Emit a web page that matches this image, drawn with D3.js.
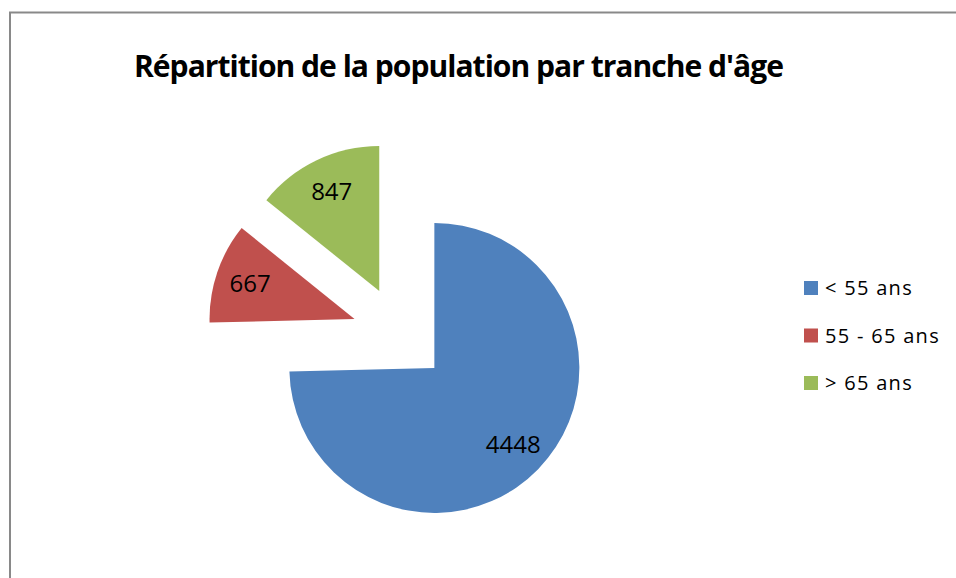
<!DOCTYPE html>
<html>
<head>
<meta charset="utf-8">
<script src="https://cdn.jsdelivr.net/npm/d3@7"></script>
<style>
  body { margin: 0; background: #fff; }
  svg { display: block; }
</style>
</head>
<body>
<div id="chart"></div>
<script>
'use strict';

// chart data
var categories = ['< 55 ans', '55 - 65 ans', '> 65 ans'];
var values = [4448, 667, 847];
var colors = ['#4F81BD', '#C0504D', '#9BBB59'];
var title = "Répartition de la population par tranche d'âge";

var width = 956, height = 578;
var cx = 400, cy = 334.4, radius = 145, explode = 48;

var svg = d3.select('#chart').append('svg')
  .attr('width', width)
  .attr('height', height);

// chart area border (goes past the right/bottom edges)
svg.append('rect')
  .attr('x', 10)
  .attr('y', 12.5)
  .attr('width', 1000)
  .attr('height', 700)
  .attr('fill', 'none')
  .attr('stroke', '#898989')
  .attr('stroke-width', 2);

svg.append('text')
  .attr('x', 134)
  .attr('y', 77)
  .attr('textLength', 649)
  .attr('lengthAdjust', 'spacingAndGlyphs')
  .style('font-family', '"Open Sans", sans-serif')
  .style('font-weight', 'bold')
  .style('font-size', '30px')
  .style('letter-spacing', '-1px')
  .attr('fill', '#000')
  .text(title);

var data = values.map(function(v, i) {
  return { name: categories[i], value: v, color: colors[i] };
});

var pie = d3.pie()
  .sort(null)
  .value(function(d) { return d.value; });

var arc = d3.arc()
  .innerRadius(0)
  .outerRadius(radius);

var labelArc = d3.arc()
  .innerRadius(radius * 0.76)
  .outerRadius(radius * 0.76);

var chart = svg.append('g')
  .attr('transform', 'translate(' + cx + ',' + cy + ')');

var slices = chart.selectAll('g.slice')
  .data(pie(data))
  .enter()
  .append('g')
  .attr('class', 'slice')
  .attr('transform', function(d) {
    var a = (d.startAngle + d.endAngle) / 2;
    return 'translate(' + (Math.sin(a) * explode) + ',' + (-Math.cos(a) * explode) + ')';
  });

slices.append('path')
  .attr('d', arc)
  .attr('fill', function(d) { return d.data.color; });

slices.append('text')
  .attr('transform', function(d) {
    var c = labelArc.centroid(d);
    return 'translate(' + c[0] + ',' + c[1] + ')';
  })
  .attr('text-anchor', 'middle')
  .attr('dy', '0.35em')
  .style('font-family', '"Open Sans", sans-serif')
  .style('font-size', '24px')
  .attr('fill', '#000')
  .text(function(d) { return d.data.value; });

// legend
var legend = svg.selectAll('g.legend')
  .data(data)
  .enter()
  .append('g')
  .attr('class', 'legend')
  .attr('transform', function(d, i) {
    return 'translate(804,' + (281 + i * 47.5) + ')';
  });

legend.append('rect')
  .attr('width', 14)
  .attr('height', 14)
  .attr('fill', function(d) { return d.color; });

legend.append('text')
  .attr('x', 21)
  .attr('y', 14)
  .style('font-family', '"Open Sans", sans-serif')
  .style('font-size', '20px')
  .style('letter-spacing', '1.3px')
  .attr('fill', '#000')
  .text(function(d) { return d.name; });
</script>
</body>
</html>
